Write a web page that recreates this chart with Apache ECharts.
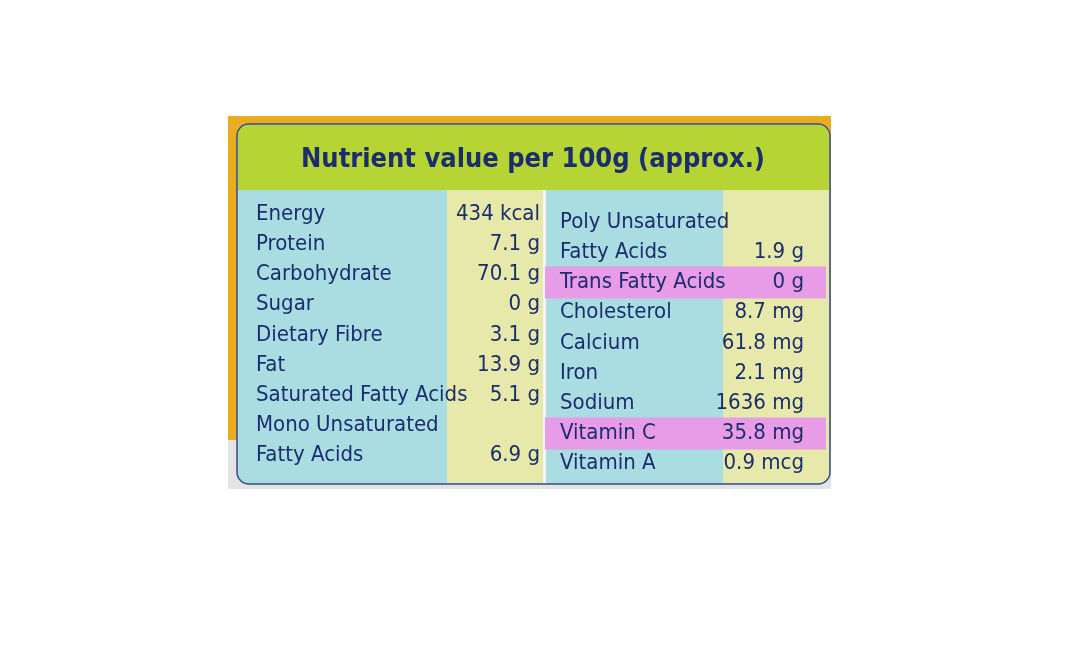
<!DOCTYPE html>
<html>
<head>
<meta charset="utf-8">
<script src="https://cdn.jsdelivr.net/npm/echarts@6/dist/echarts.min.js"></script>
<style>
  html, body { margin: 0; padding: 0; background: #ffffff; }
  #chart { width: 1068px; height: 671px; }
</style>
</head>
<body>
<div id="chart"></div>
<script>
// label content
const title = 'Nutrient value per 100g (approx.)';
const leftNames = ['Energy', 'Protein', 'Carbohydrate', 'Sugar', 'Dietary Fibre', 'Fat',
    'Saturated Fatty Acids', 'Mono Unsaturated', 'Fatty Acids'];
const leftValues = ['434 kcal', '7.1 g', '70.1 g', '0 g', '3.1 g', '13.9 g', '5.1 g', '', '6.9 g'];
const rightNames = ['Poly Unsaturated', 'Fatty Acids', 'Trans Fatty Acids', 'Cholesterol', 'Calcium',
    'Iron', 'Sodium', 'Vitamin C', 'Vitamin A'];
const rightValues = ['', '1.9 g', '0 g', '8.7 mg', '61.8 mg', '2.1 mg', '1636 mg', '35.8 mg', '0.9 mcg'];
const highlighted = ['Trans Fatty Acids', 'Vitamin C'];

const chart = echarts.init(document.getElementById('chart'));
const font = '"Liberation Sans Narrow", "DejaVu Sans Condensed", "Liberation Sans", sans-serif';
const ink = '#1c2d6e';
const blue = '#a9dde2';
const yellow = '#e6e9a9';
const pink = '#e89be6';

const elements = [];
// frame
elements.push({ type: 'rect', shape: { x: 228, y: 116, width: 603, height: 373 }, style: { fill: '#e9ad1e' } });
elements.push({ type: 'rect', shape: { x: 228, y: 440, width: 603, height: 49 }, style: { fill: '#e4e4e4' } });
elements.push({ type: 'rect', shape: { x: 237, y: 124, width: 593, height: 360, r: 12 },
    style: { fill: blue, stroke: '#3a4a8a', lineWidth: 1.5 } });
elements.push({ type: 'rect', shape: { x: 238, y: 125, width: 591, height: 65, r: [11, 11, 0, 0] },
    style: { fill: '#b7d435' } });
elements.push({ type: 'rect', shape: { x: 447, y: 190, width: 96, height: 293 }, style: { fill: yellow } });
elements.push({ type: 'rect', shape: { x: 543, y: 190, width: 3, height: 293 }, style: { fill: '#f4f4f4' } });
elements.push({ type: 'rect', shape: { x: 723, y: 190, width: 106, height: 293, r: [0, 0, 11, 0] }, style: { fill: yellow } });
elements.push({ type: 'text', x: 533, y: 160, style: { text: title, font: 'bold 27px ' + font, fill: ink,
    align: 'center', verticalAlign: 'middle' } });

const leftY0 = 214, rightY0 = 222, step = 30.2;
leftNames.forEach((n, i) => {
    const y = leftY0 + i * step;
    elements.push({ type: 'text', x: 256, y, style: { text: n, font: '22px ' + font, fill: ink, verticalAlign: 'middle' } });
    elements.push({ type: 'text', x: 540, y, style: { text: leftValues[i], font: '22px ' + font, fill: ink,
        align: 'right', verticalAlign: 'middle' } });
});
rightNames.forEach((n, i) => {
    const y = rightY0 + i * step;
    if (highlighted.includes(n)) {
        elements.push({ type: 'rect', shape: { x: 545, y: y - 16, width: 281, height: 32 }, style: { fill: pink } });
    }
    elements.push({ type: 'text', x: 560, y, style: { text: n, font: '22px ' + font, fill: ink, verticalAlign: 'middle' } });
    elements.push({ type: 'text', x: 804, y, style: { text: rightValues[i], font: '22px ' + font, fill: ink,
        align: 'right', verticalAlign: 'middle' } });
});

chart.setOption({ backgroundColor: '#ffffff', graphic: { elements } });
</script>
</body>
</html>
